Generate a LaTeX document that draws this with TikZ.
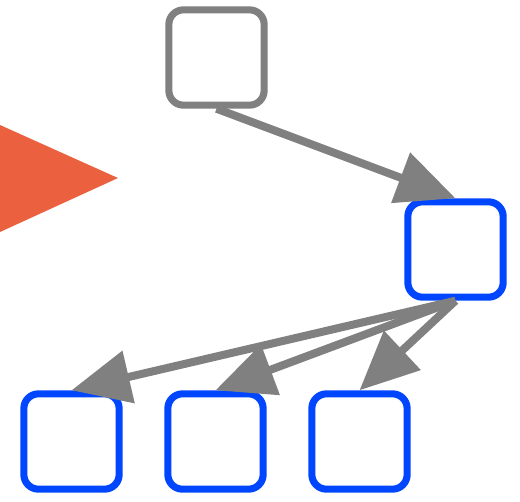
\documentclass[tikz,border=0pt]{standalone}
\usetikzlibrary{arrows.meta}
\definecolor{boxgray}{RGB}{128,128,128}
\definecolor{boxblue}{RGB}{0,70,255}
\definecolor{triorange}{RGB}{235,97,63}
\tikzset{
  sq/.style={draw, rectangle, rounded corners=11pt, minimum size=71.5pt, inner sep=0pt, line width=5.3pt, fill=white},
  graysq/.style={sq, draw=boxgray},
  bluesq/.style={sq, draw=boxblue},
  conn/.style={draw=boxgray, line width=6pt, -{Triangle[length=44pt, width=39pt]}, fill=boxgray}
}
\begin{document}
\begin{tikzpicture}[x=0.75pt, y=-0.75pt]
\useasboundingbox (0,0) rectangle (520,501);
\fill[triorange] (0,125) -- (118,178) -- (0,232) -- cycle;
\node[graysq] (g) at (216.5,57.5) {};
\node[bluesq] (b) at (455.5,249.5) {};
\node[bluesq] (c1) at (71.5,441.5) {};
\node[bluesq] (c2) at (215.5,441.5) {};
\node[bluesq] (c3) at (359.5,441.5) {};
\draw[conn] (g.south) -- (b.north);
\draw[conn] (b.south) -- (c1.north);
\draw[conn] (b.south) -- (c2.north);
\draw[conn] (b.south) -- (c3.north);
\end{tikzpicture}
\end{document}
